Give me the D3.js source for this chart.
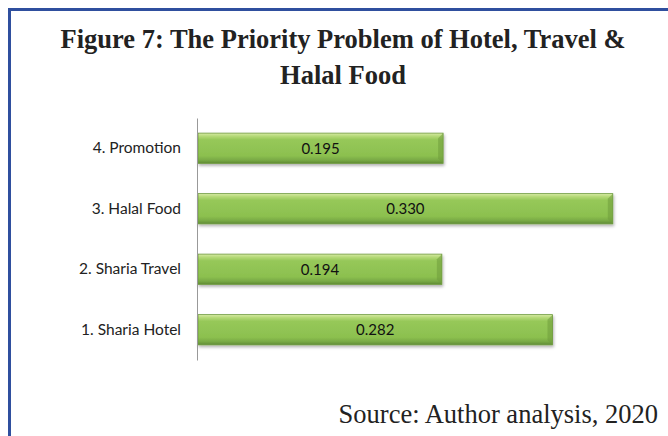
<!DOCTYPE html>
<html>
<head>
<meta charset="utf-8">
<script src="https://cdn.jsdelivr.net/npm/d3@7"></script>
<style>
  body { margin: 0; background: #fff; }
  svg { display: block; }
</style>
</head>
<body>
<svg id="chart" width="668" height="436"></svg>
<script>
// data
const categories = ['4. Promotion', '3. Halal Food', '2. Sharia Travel', '1. Sharia Hotel'];
const values = [0.195, 0.330, 0.194, 0.282];
const valueLabels = ['0.195', '0.330', '0.194', '0.282'];

const svg = d3.select('#chart');
const width = 668, height = 436;

// blue frame (left + top)
svg.append('rect').attr('x', 8).attr('y', 8).attr('width', 3).attr('height', height - 8).attr('fill', '#2f4f9e');
svg.append('rect').attr('x', 8).attr('y', 8).attr('width', width - 8).attr('height', 3).attr('fill', '#2f4f9e');

// title
const title = svg.append('text')
  .attr('text-anchor', 'middle')
  .attr('font-family', '"Liberation Serif", "Times New Roman", serif')
  .attr('font-weight', 'bold')
  .attr('font-size', 26.5)
  .attr('fill', '#222');
title.append('tspan').attr('x', 343).attr('y', 48).text('Figure 7: The Priority Problem of Hotel, Travel &');
title.append('tspan').attr('x', 343).attr('y', 84).text('Halal Food');

const x = d3.scaleLinear().domain([0, 0.35]).range([198, 198 + 0.35 * 1257]);
const y = d3.scaleBand().domain(categories).range([118, 360]).paddingInner(0.5).paddingOuter(0.25);

const defs = svg.append('defs');
const grad = defs.append('linearGradient').attr('id', 'barGrad').attr('x1', 0).attr('y1', 0).attr('x2', 0).attr('y2', 1);
grad.append('stop').attr('offset', '0%').attr('stop-color', '#d7eba6');
grad.append('stop').attr('offset', '10%').attr('stop-color', '#b5d977');
grad.append('stop').attr('offset', '22%').attr('stop-color', '#96c859');
grad.append('stop').attr('offset', '75%').attr('stop-color', '#8cc04f');
grad.append('stop').attr('offset', '90%').attr('stop-color', '#77a844');
grad.append('stop').attr('offset', '100%').attr('stop-color', '#5f8a35');

const filt = defs.append('filter').attr('id', 'shadow').attr('x', '-5%').attr('y', '-20%').attr('width', '115%').attr('height', '160%');
filt.append('feDropShadow').attr('dx', 1).attr('dy', 2).attr('stdDeviation', 1.5).attr('flood-color', '#000').attr('flood-opacity', 0.3);

const bars = svg.append('g');
bars.selectAll('rect')
  .data(values)
  .enter()
  .append('rect')
  .attr('x', x(0))
  .attr('y', (d, i) => y(categories[i]))
  .attr('width', d => x(d) - x(0))
  .attr('height', y.bandwidth())
  .attr('fill', 'url(#barGrad)')
  .attr('stroke', '#6e9a3e')
  .attr('stroke-width', 0.8)
  .attr('filter', 'url(#shadow)');

// right bevel edge
bars.selectAll('path.bevel')
  .data(values)
  .enter()
  .append('path')
  .attr('class', 'bevel')
  .attr('d', (d, i) => {
    const x1 = x(d), y0 = y(categories[i]), h = y.bandwidth();
    return `M${x1},${y0} L${x1 - 5},${y0 + 5} L${x1 - 5},${y0 + h - 5} L${x1},${y0 + h} Z`;
  })
  .attr('fill', '#6f9d3d')
  .attr('opacity', 0.55);

// value labels
svg.append('g').selectAll('text')
  .data(values)
  .enter()
  .append('text')
  .attr('x', d => (x(0) + x(d)) / 2)
  .attr('y', (d, i) => y(categories[i]) + y.bandwidth() / 2)
  .attr('dy', '0.36em')
  .attr('text-anchor', 'middle')
  .attr('font-family', 'Lato, "Open Sans", sans-serif')
  .attr('font-size', 15)
  .attr('fill', '#111')
  .text((d, i) => valueLabels[i]);

// category axis
const axis = svg.append('g')
  .attr('transform', `translate(${x(0) - 1},0)`)
  .call(d3.axisLeft(y).tickSize(0).tickPadding(16));
axis.select('.domain').attr('stroke', '#999').attr('stroke-width', 1);
axis.selectAll('text')
  .attr('font-family', 'Lato, "Open Sans", sans-serif')
  .attr('font-size', 15.5)
  .attr('fill', '#222');

// source
svg.append('text')
  .attr('x', 658)
  .attr('y', 423)
  .attr('text-anchor', 'end')
  .attr('font-family', '"Liberation Serif", "Times New Roman", serif')
  .attr('font-size', 26.5)
  .attr('fill', '#222')
  .text('Source: Author analysis, 2020');
</script>
</body>
</html>
